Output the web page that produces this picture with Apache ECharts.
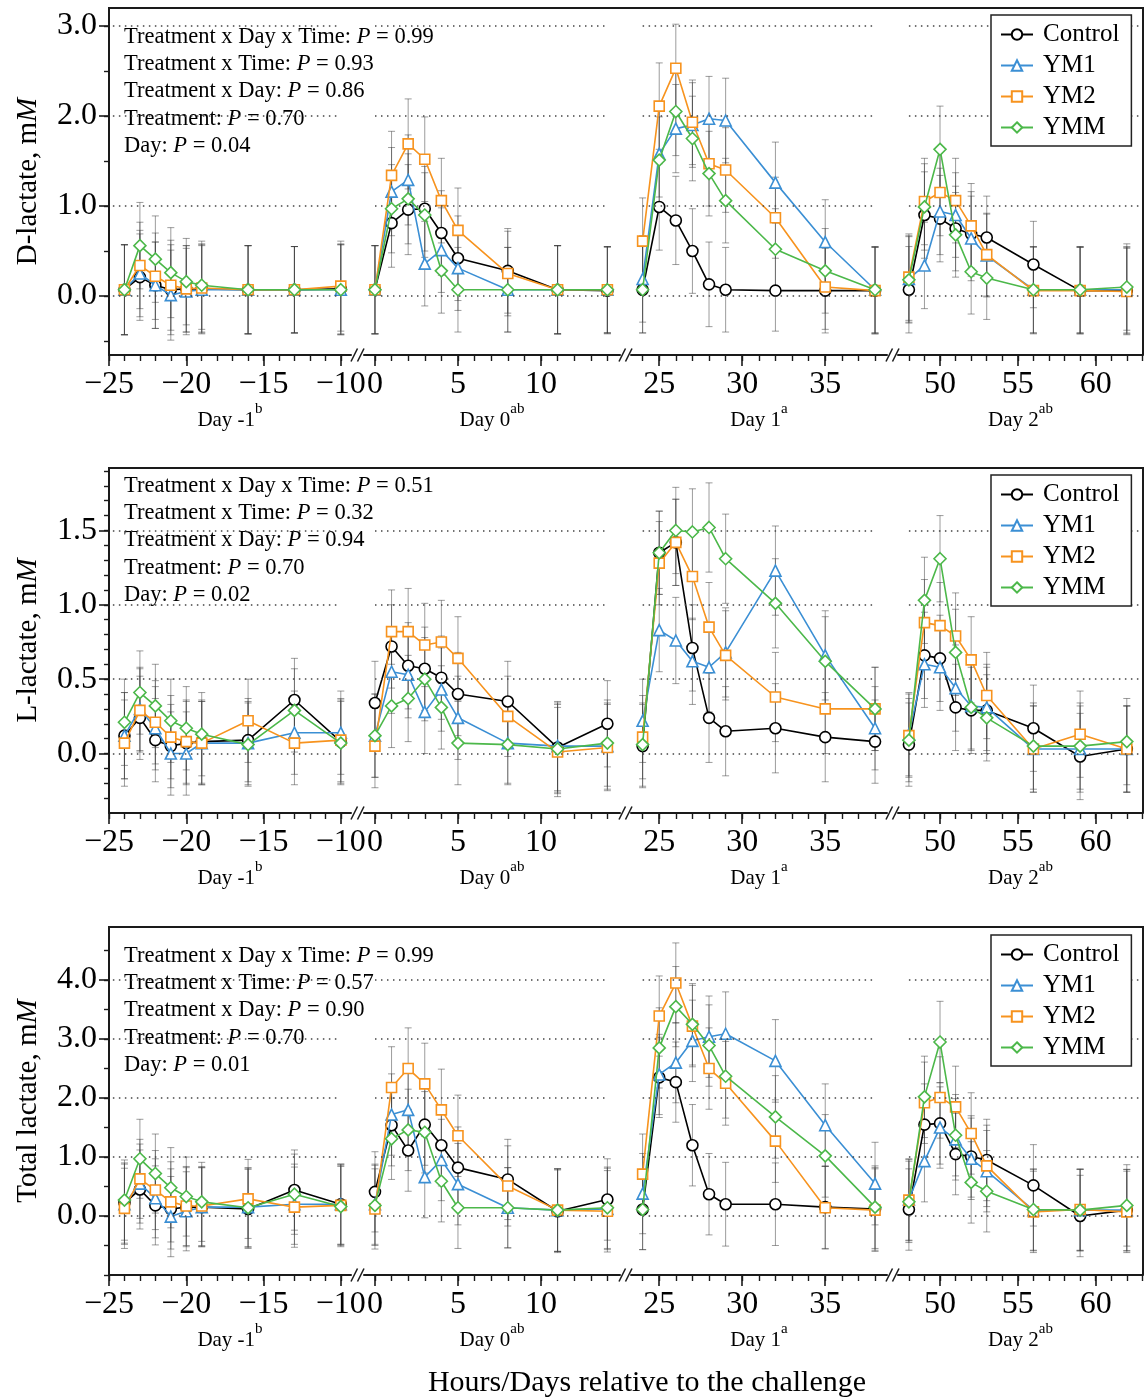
<!DOCTYPE html>
<html><head><meta charset="utf-8">
<script src="https://cdn.jsdelivr.net/npm/echarts@6/dist/echarts.min.js"></script>
<style>html,body{margin:0;padding:0;background:#fff}#c{width:1147px;height:1399px}</style>
</head><body><div id="c"></div>
<script>
// ---------------- DATA ----------------
const hours = [-24,-23,-22,-21,-20,-19,-16,-13,-10, 0,1,2,3,4,5,8,11,14, 24,25,26,27,28,29,32,35,38, 48,49,50,51,52,53,56,59,62];
const treatments = ['Control','YM1','YM2','YMM'];

const dControl = [0.07,0.21,0.12,0.07,0.08,0.08,0.07,0.07,0.08, 0.07,0.81,0.96,0.97,0.70,0.42,0.28,0.07,0.06, 0.07,0.99,0.84,0.50,0.13,0.07,0.06,0.06,0.06, 0.07,0.90,0.86,0.75,0.69,0.65,0.35,0.06,0.06];
const dYM1     = [0.07,0.25,0.12,0.01,0.05,0.07,0.07,0.07,0.07, 0.07,1.16,1.29,0.36,0.51,0.31,0.07,0.07,0.07, 0.19,1.58,1.86,1.90,1.97,1.95,1.26,0.60,0.07, 0.19,0.34,0.94,0.90,0.64,0.45,0.07,0.07,0.07];
const dYM2     = [0.07,0.34,0.22,0.12,0.08,0.09,0.07,0.07,0.11, 0.07,1.34,1.69,1.52,1.06,0.73,0.25,0.07,0.07, 0.61,2.11,2.53,1.93,1.47,1.40,0.87,0.10,0.06, 0.21,1.05,1.15,1.06,0.78,0.46,0.06,0.06,0.05];
const dYMM     = [0.07,0.56,0.41,0.26,0.16,0.12,0.07,0.07,0.07, 0.07,0.97,1.08,0.90,0.28,0.07,0.07,0.07,0.07, 0.07,1.51,2.05,1.75,1.36,1.06,0.52,0.28,0.07, 0.18,0.99,1.63,0.68,0.27,0.20,0.07,0.07,0.10];
const dSE      = [0.50,0.48,0.48,0.50,0.48,0.49,0.49,0.48,0.50, 0.49,0.49,0.50,0.47,0.47,0.47,0.47,0.49,0.48, 0.48,0.48,0.49,0.47,0.47,0.47,0.45,0.47,0.48, 0.48,0.48,0.48,0.47,0.47,0.46,0.48,0.48,0.48];

const lControl = [0.12,0.24,0.09,0.05,0.07,0.08,0.09,0.36,0.08, 0.34,0.72,0.59,0.57,0.51,0.40,0.35,0.04,0.20, 0.05,1.35,1.42,0.71,0.24,0.15,0.17,0.11,0.08, 0.06,0.66,0.64,0.31,0.29,0.29,0.17,-0.02,0.03];
const lYM1     = [0.12,0.30,0.17,0.00,0.00,0.07,0.07,0.14,0.14, 0.12,0.55,0.53,0.28,0.43,0.24,0.07,0.05,0.05, 0.22,0.83,0.76,0.62,0.58,0.68,1.23,0.66,0.17, 0.13,0.60,0.58,0.44,0.32,0.31,0.03,0.03,0.03];
const lYM2     = [0.07,0.29,0.21,0.11,0.08,0.07,0.22,0.07,0.09, 0.05,0.82,0.82,0.73,0.75,0.64,0.25,0.01,0.04, 0.11,1.28,1.42,1.19,0.85,0.66,0.38,0.30,0.30, 0.12,0.88,0.86,0.79,0.63,0.39,0.03,0.13,0.03];
const lYMM     = [0.21,0.41,0.32,0.22,0.17,0.13,0.06,0.29,0.07, 0.12,0.32,0.37,0.50,0.31,0.07,0.06,0.03,0.07, 0.06,1.35,1.50,1.49,1.52,1.31,1.01,0.62,0.30, 0.09,1.03,1.31,0.68,0.31,0.24,0.05,0.05,0.08];
const lSE      = [0.29,0.28,0.28,0.28,0.28,0.28,0.28,0.28,0.28, 0.28,0.28,0.29,0.28,0.28,0.28,0.27,0.30,0.29, 0.28,0.28,0.29,0.29,0.30,0.30,0.30,0.30,0.28, 0.28,0.29,0.29,0.29,0.29,0.29,0.29,0.29,0.29];

const tControl = [0.22,0.45,0.18,0.12,0.15,0.15,0.12,0.44,0.20, 0.41,1.54,1.11,1.55,1.20,0.82,0.62,0.08,0.28, 0.11,2.35,2.27,1.20,0.37,0.20,0.20,0.15,0.12, 0.11,1.55,1.57,1.05,1.01,0.95,0.52,0.00,0.10];
const tYM1     = [0.20,0.55,0.30,-0.01,0.08,0.15,0.15,0.20,0.20, 0.20,1.72,1.80,0.66,0.95,0.54,0.14,0.10,0.12, 0.38,2.40,2.60,2.97,3.04,3.09,2.63,1.54,0.55, 0.28,0.93,1.50,1.30,0.97,0.76,0.10,0.10,0.10];
const tYM2     = [0.13,0.63,0.44,0.24,0.17,0.17,0.29,0.15,0.18, 0.12,2.18,2.50,2.24,1.80,1.36,0.51,0.10,0.08, 0.71,3.39,3.95,3.22,2.50,2.25,1.27,0.14,0.10, 0.27,1.92,2.01,1.85,1.40,0.85,0.07,0.11,0.07];
const tYMM     = [0.27,0.97,0.72,0.48,0.33,0.24,0.14,0.37,0.16, 0.18,1.31,1.46,1.42,0.59,0.14,0.14,0.10,0.14, 0.11,2.85,3.55,3.25,2.89,2.37,1.68,1.02,0.15, 0.24,2.02,2.95,1.37,0.57,0.42,0.11,0.10,0.18];
const tSE      = [0.68,0.67,0.67,0.68,0.67,0.67,0.67,0.68,0.68, 0.68,0.69,0.69,0.69,0.69,0.69,0.68,0.70,0.69, 0.68,0.68,0.68,0.69,0.69,0.71,0.70,0.70,0.70, 0.69,0.69,0.69,0.69,0.69,0.69,0.69,0.69,0.69];

const statTerms = ['Treatment x Day x Time','Treatment x Time','Treatment x Day','Treatment','Day'];
const dStats = ['0.99','0.93','0.86','0.70','0.04'];
const lStats = ['0.51','0.32','0.94','0.70','0.02'];
const tStats = ['0.99','0.57','0.90','0.70','0.01'];

const dayNames = ['Day -1','Day 0','Day 1','Day 2'];
const daySup = ['b','ab','a','ab'];

const xMajorTicks = [[-25,-20,-15,-10],[0,5,10],[25,30,35],[50,55,60]];
const xMinorTicks = [
  [-25,-24,-23,-22,-21,-20,-19,-18,-17,-16,-15,-14,-13,-12,-11,-10],
  [0,1,2,3,4,5,6,7,8,9,10,11,12,13,14],
  [24,25,26,27,28,29,30,31,32,33,34,35,36,37,38],
  [48,49,50,51,52,53,54,55,56,57,58,59,60,61,62,63]
];
const dYTicks = [0,1,2,3];
const dYMinor = [-0.5,0,0.5,1,1.5,2,2.5,3];
const lYTicks = [0,0.5,1,1.5];
const lYMinor = [-0.3,-0.2,-0.1,0,0.1,0.2,0.3,0.4,0.5,0.6,0.7,0.8,0.9,1.0,1.1,1.2,1.3,1.4,1.5,1.6,1.7,1.8,1.9];
const tYTicks = [0,1,2,3,4];
const tYMinor = [-1,-0.5,0,0.5,1,1.5,2,2.5,3,3.5,4,4.5];

// ---------------- LAYOUT / STYLE ----------------
const FONT = "'Liberation Serif','DejaVu Serif','Times New Roman',serif";
const colors = ['#000000','#3b8fd4','#f7931e','#4cb84a'];
const symbols = ['circle','triangle','rect','diamond'];
const symSizes = [11, 11, 10, 12];
const AX = '#1a1a1a';

const segLayout = [
  {left:109, width:242, min:-25,   max:-9.34, gs:-24.75, ge:-10},
  {left:364, width:256, min:-0.66, max:14.76, gs:0,  ge:14},
  {left:631, width:256, min:23.3,  max:38.72, gs:24, ge:38},
  {left:898, width:245, min:47.3,  max:63.04, gs:48, ge:63}
];
const plotLeft = 109, plotRight = 1143;

const panels = [
  {name:['D-lactate, m','M'], values:[dControl,dYM1,dYM2,dYMM], se:dSE, stats:dStats,
   top:8, height:347, min:-0.655, max:3.2, major:dYTicks, minor:dYMinor, statY:37, legendTop:15},
  {name:['L-lactate, m','M'], values:[lControl,lYM1,lYM2,lYMM], se:lSE, stats:lStats,
   top:468, height:345, min:-0.4, max:1.92, major:lYTicks, minor:lYMinor, statY:486, legendTop:475},
  {name:['Total lactate, m','M'], values:[tControl,tYM1,tYM2,tYMM], se:tSE, stats:tStats,
   top:927, height:348, min:-1.0, max:4.9, major:tYTicks, minor:tYMinor, statY:956, legendTop:935}
];

const grids = [], xAxes = [], yAxes = [], series = [], graphics = [], legends = [];

function errRender(params, api) {
  const x = api.value(0), lo = api.value(1), hi = api.value(2);
  const a = api.coord([x, hi]), b = api.coord([x, lo]);
  const w = 3.5;
  const st = {stroke:'rgba(60,60,60,0.5)', lineWidth:1};
  return {type:'group', children:[
    {type:'line', shape:{x1:a[0], y1:a[1], x2:b[0], y2:b[1]}, style:st},
    {type:'line', shape:{x1:a[0]-w, y1:a[1], x2:a[0]+w, y2:a[1]}, style:st},
    {type:'line', shape:{x1:b[0]-w, y1:b[1], x2:b[0]+w, y2:b[1]}, style:st}
  ]};
}

panels.forEach((p, pi) => {
  segLayout.forEach((sg, si) => {
    const gi = grids.length;
    grids.push({left:sg.left, top:p.top, width:sg.width, height:p.height, containLabel:false, outerBoundsMode:'none'});
    const xi = xAxes.length;
    xAxes.push({
      type:'value', gridIndex:gi, position:'bottom', offset:0, min:sg.min, max:sg.max,
      name:'{n|' + dayNames[si] + '}{s|' + daySup[si] + '}', nameLocation:'middle', nameGap:47,
      nameTextStyle:{fontFamily:FONT, color:'#000', rich:{
        n:{fontSize:21, lineHeight:36, fontFamily:FONT, color:'#000'},
        s:{fontSize:15, lineHeight:15, fontFamily:FONT, color:'#000', verticalAlign:'top'}}},
      axisLine:{show:true, onZero:false, lineStyle:{color:AX, width:2}},
      axisTick:{show:true, customValues:xMajorTicks[si], length:11, lineStyle:{color:AX, width:1.6}},
      axisLabel:{show:true, customValues:xMajorTicks[si], margin:14, fontSize:32, fontFamily:FONT, color:'#000',
        formatter:v => String(v).replace('-', '\u2212')},
      splitLine:{show:false}
    });
    xAxes.push({
      type:'value', gridIndex:gi, position:'bottom', offset:0, min:sg.min, max:sg.max,
      axisLine:{show:false, onZero:false},
      axisTick:{show:true, customValues:xMinorTicks[si], length:6, lineStyle:{color:AX, width:1.4}},
      axisLabel:{show:false}, splitLine:{show:false}
    });
    const yi = yAxes.length;
    if (si === 0) {
      yAxes.push({
        type:'value', gridIndex:gi, position:'left', offset:0, min:p.min, max:p.max,
        name:'{n|' + p.name[0] + '}{i|' + p.name[1] + '}', nameLocation:'middle', nameGap:66, nameRotate:90,
        nameTextStyle:{fontFamily:FONT, color:'#000', rich:{
          n:{fontSize:29, fontFamily:FONT, color:'#000'},
          i:{fontSize:29, fontFamily:FONT, color:'#000', fontStyle:'italic'}}},
        axisLine:{show:true, onZero:false, lineStyle:{color:AX, width:2}},
        axisTick:{show:true, customValues:p.major, length:10, lineStyle:{color:AX, width:1.6}},
        axisLabel:{show:true, customValues:p.major, margin:12, fontSize:32, fontFamily:FONT, color:'#000',
          formatter:v => Number(v).toFixed(1)},
        splitLine:{show:false}
      });
      yAxes.push({
        type:'value', gridIndex:gi, position:'left', offset:0, min:p.min, max:p.max,
        axisLine:{show:false, onZero:false},
        axisTick:{show:true, customValues:p.minor, length:5, lineStyle:{color:AX, width:1.4}},
        axisLabel:{show:false}, splitLine:{show:false}
      });
    } else {
      yAxes.push({type:'value', gridIndex:gi, min:p.min, max:p.max, show:false,
        axisLine:{onZero:false}, splitLine:{show:false}});
    }
    const idx = [];
    for (let k = si * 9; k < si * 9 + 9; k++) idx.push(k);
    const errData = [];
    treatments.forEach((t, ti) => {
      idx.forEach(k => {
        const m = p.values[ti][k];
        errData.push([hours[k], m - p.se[k], m + p.se[k]]);
      });
    });
    series.push({
      type:'custom', xAxisIndex:xi, yAxisIndex:yi, renderItem:errRender, data:errData,
      encode:{x:0, y:[1,2]}, z:1, silent:true, clip:false,
      markLine:{silent:true, symbol:['none','none'], label:{show:false}, animation:false,
        lineStyle:{type:[1.5,4.5], color:'#444', width:1.5},
        emphasis:{disabled:true},
        data:p.major.map(y => [{coord:[sg.gs, y]}, {coord:[sg.ge, y]}])}
    });
    treatments.forEach((t, ti) => {
      series.push({
        type:'line', name:t, xAxisIndex:xi, yAxisIndex:yi, z:2 + ti,
        data:idx.map(k => [hours[k], p.values[ti][k]]),
        symbol:symbols[ti], symbolSize:symSizes[ti], showSymbol:true,
        lineStyle:{color:colors[ti], width:1.6},
        itemStyle:{color:'#ffffff', borderColor:colors[ti], borderWidth:1.6},
        emphasis:{disabled:true}, silent:true, clip:false
      });
    });
  });

  const top = p.top, bot = p.top + p.height;
  const ls = {stroke:AX, lineWidth:2};
  graphics.push({type:'line', shape:{x1:plotLeft - 1, y1:top, x2:plotRight + 1, y2:top}, style:ls, z:5});
  graphics.push({type:'line', shape:{x1:plotRight, y1:top, x2:plotRight, y2:bot}, style:ls, z:5});
  for (let s = 0; s < segLayout.length - 1; s++) {
    const cx = (segLayout[s].left + segLayout[s].width + segLayout[s + 1].left) / 2;
    const bs = {stroke:AX, lineWidth:1.6};
    graphics.push({type:'line', shape:{x1:cx - 6.5, y1:bot + 6.5, x2:cx, y2:bot - 6.5}, style:bs, z:5});
    graphics.push({type:'line', shape:{x1:cx, y1:bot + 6.5, x2:cx + 6.5, y2:bot - 6.5}, style:bs, z:5});
  }
  statTerms.forEach((term, li) => {
    graphics.push({type:'text', x:124, y:p.statY + li * 27.2, z:3, silent:true,
      style:{text:'{n|' + term + ': }{i|P}{n| = ' + p.stats[li] + '}', verticalAlign:'middle', align:'left',
        rich:{n:{fontSize:22.5, fontFamily:FONT, fill:'#000'}, i:{fontSize:22.5, fontFamily:FONT, fill:'#000', fontStyle:'italic'}}}});
  });
  legends.push({
    left:991, top:p.legendTop, orient:'vertical', data:treatments, selectedMode:false,
    backgroundColor:'#ffffff', borderColor:'#222', borderWidth:1.5, borderRadius:0,
    padding:[7,12,6,9], itemGap:6, itemWidth:32, itemHeight:13, z:10,
    textStyle:{fontFamily:FONT, fontSize:25, color:'#000', padding:[0,0,0,5]}
  });
});

graphics.push({type:'text', x:647, y:1383, silent:true,
  style:{text:'Hours/Days relative to the challenge', align:'center', verticalAlign:'middle',
    font:'30px ' + FONT, fill:'#000'}});

const chart = echarts.init(document.getElementById('c'), null, {renderer:'canvas'});
chart.setOption({
  animation:false,
  backgroundColor:'#ffffff',
  grid:grids, xAxis:xAxes, yAxis:yAxes, series:series,
  legend:legends, graphic:graphics
});
</script>
</body></html>
